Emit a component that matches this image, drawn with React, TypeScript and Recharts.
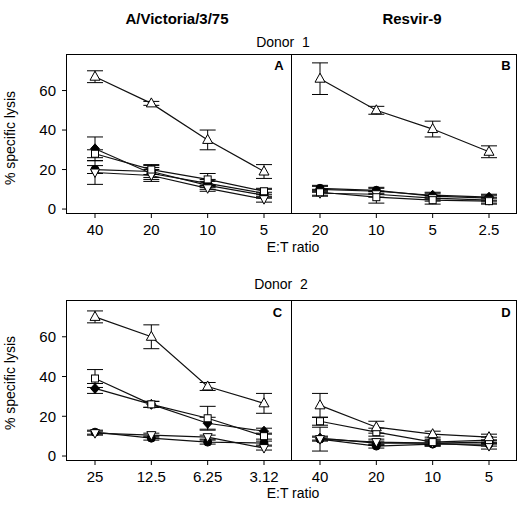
import React from "react";
import { LineChart, Line, XAxis, YAxis, ErrorBar } from "recharts";

// E:T ratio categories per panel
const catsA = ["40", "20", "10", "5"];
const catsB = ["20", "10", "5", "2.5"];
const catsC = ["25", "12.5", "6.25", "3.12"];
const catsD = ["40", "20", "10", "5"];
const yTicks = [0, 20, 40, 60];

// Panel A - Donor 1, A/Victoria/3/75
const triA = [67, 53.5, 35, 19];
const triAErr = [3, 1, 5, 3.5];
const sqA = [28, 20, 15, 9];
const sqAErr = [2, 2.5, 3, 1.5];
const diaA = [30.5, 18, 13, 8];
const diaAErr = [6, 3, 2, 2];
const cirA = [20, 19, 12, 7];
const cirAErr = [2, 3, 2, 1.5];
const invA = [18.5, 17, 10.5, 5];
const invAErr = [6, 3, 1.5, 1.5];

// Panel B - Donor 1, Resvir-9
const triB = [66, 50, 40.5, 29];
const triBErr = [8, 2, 4, 3];
const sqB = [8.5, 6, 4.5, 4];
const sqBErr = [1.5, 3, 2, 1.5];
const diaB = [10, 9, 7, 6];
const diaBErr = [1.5, 1.5, 1.5, 1.5];
const cirB = [10.5, 9.5, 6.5, 5.5];
const cirBErr = [1.5, 1.5, 1.5, 1.5];
const invB = [8, 7.5, 5.5, 4.5];
const invBErr = [1.5, 1.5, 1.5, 1.5];

// Panel C - Donor 2, A/Victoria/3/75
const triC = [70, 60, 35, 26.5];
const triCErr = [3, 6, 2, 5];
const sqC = [39, 26, 19, 10];
const sqCErr = [4.5, 1.5, 6, 1.5];
const diaC = [34, 26, 16.5, 12.5];
const diaCErr = [2.5, 1.5, 3, 1.5];
const cirC = [12, 9, 7, 6.5];
const cirCErr = [1, 1, 1, 1];
const invC = [11.5, 10.5, 9.5, 4];
const invCErr = [1, 1, 1, 1];

// Panel D - Donor 2, Resvir-9
const triD = [25.5, 14.5, 11, 9.5];
const triDErr = [6, 3, 1.5, 1.5];
const sqD = [17.5, 12, 7, 8];
const sqDErr = [2, 2, 1.5, 1.5];
const diaD = [9, 6.5, 6.5, 7];
const diaDErr = [1, 1, 1, 1];
const cirD = [8.5, 5, 6, 6];
const cirDErr = [1, 1, 1, 1];
const invD = [8.5, 7, 6.5, 5];
const invDErr = [6, 1.5, 1.5, 1.5];

type Kind = "tri" | "sq" | "dia" | "cir" | "inv";
const kinds: Kind[] = ["cir", "dia", "inv", "sq", "tri"];

function build(cats: string[], s: Record<string, number[]>) {
  return cats.map((cat, i) => {
    const row: Record<string, string | number> = { cat };
    Object.keys(s).forEach((k) => (row[k] = s[k][i]));
    return row;
  });
}

const dataA = build(catsA, {
  tri: triA, triErr: triAErr, sq: sqA, sqErr: sqAErr, dia: diaA, diaErr: diaAErr,
  cir: cirA, cirErr: cirAErr, inv: invA, invErr: invAErr,
});
const dataB = build(catsB, {
  tri: triB, triErr: triBErr, sq: sqB, sqErr: sqBErr, dia: diaB, diaErr: diaBErr,
  cir: cirB, cirErr: cirBErr, inv: invB, invErr: invBErr,
});
const dataC = build(catsC, {
  tri: triC, triErr: triCErr, sq: sqC, sqErr: sqCErr, dia: diaC, diaErr: diaCErr,
  cir: cirC, cirErr: cirCErr, inv: invC, invErr: invCErr,
});
const dataD = build(catsD, {
  tri: triD, triErr: triDErr, sq: sqD, sqErr: sqDErr, dia: diaD, diaErr: diaDErr,
  cir: cirD, cirErr: cirDErr, inv: invD, invErr: invDErr,
});

const FONT = '"Liberation Sans", Arial, sans-serif';
const yDomain: [number, number] = [-2, 78.5];

function Marker({ kind, cx, cy }: { kind: Kind; cx?: number; cy?: number }) {
  if (cx == null || cy == null) return null;
  const s = { stroke: "#000", strokeWidth: 1 };
  switch (kind) {
    case "tri":
      return <polygon points={`${cx},${cy - 5.5} ${cx + 5},${cy + 3.5} ${cx - 5},${cy + 3.5}`} fill="#fff" {...s} />;
    case "inv":
      return <polygon points={`${cx},${cy + 5} ${cx + 4.5},${cy - 3.5} ${cx - 4.5},${cy - 3.5}`} fill="#fff" {...s} />;
    case "sq":
      return <rect x={cx - 3.5} y={cy - 3.5} width={7} height={7} fill="#fff" {...s} />;
    case "dia":
      return <polygon points={`${cx},${cy - 5} ${cx + 4.5},${cy} ${cx},${cy + 5} ${cx - 4.5},${cy}`} fill="#000" {...s} />;
    default:
      return <circle cx={cx} cy={cy} r={4} fill="#000" {...s} />;
  }
}

function Panel({
  data, left, top, width, marginTop, marginRight, xHeight, showY,
}: {
  data: Record<string, string | number>[];
  left: number; top: number; width: number; marginTop: number; marginRight: number;
  xHeight: number; showY: boolean;
}) {
  const tickStyle = { fontSize: 15, fill: "#000", fontFamily: FONT };
  return (
    <div style={{ position: "absolute", left, top }}>
      <LineChart width={width} height={250} data={data} margin={{ top: marginTop, right: marginRight, bottom: 0, left: 0 }}>
        <XAxis
          dataKey="cat"
          height={xHeight}
          padding={{ left: 28, right: 28 }}
          tick={tickStyle}
          tickSize={5}
          tickMargin={6}
          axisLine={false}
          tickLine={{ stroke: "#000" }}
        />
        <YAxis
          domain={yDomain}
          ticks={yTicks}
          allowDataOverflow
          hide={!showY}
          width={67}
          tick={tickStyle}
          tickSize={5}
          tickMargin={6}
          axisLine={false}
          tickLine={{ stroke: "#000" }}
        />
        {kinds.map((k) => (
          <Line
            key={k}
            dataKey={k}
            stroke="#111"
            strokeWidth={1.2}
            isAnimationActive={false}
            dot={(p: { cx?: number; cy?: number; index?: number }) => <Marker key={`${k}${p.index}`} kind={k} cx={p.cx} cy={p.cy} />}
          >
            <ErrorBar dataKey={`${k}Err`} width={8} stroke="#000" strokeWidth={1} direction="y" />
          </Line>
        ))}
      </LineChart>
    </div>
  );
}

// panel frames: outer box per row plus the divider between the two panels
function Frame({ top, height }: { top: number; height: number }) {
  return (
    <>
      <div style={{ position: "absolute", left: 66, top, width: 451, height, boxSizing: "border-box", border: "1px solid #000" }} />
      <div style={{ position: "absolute", left: 291, top, width: 1, height, background: "#000" }} />
    </>
  );
}

const texts = [
  { t: "A/Victoria/3/75", x: 177, y: 18.5, size: 15, bold: true },
  { t: "Resvir-9", x: 412, y: 18.5, size: 15, bold: true },
  { t: "Donor  1", x: 283, y: 42, size: 14, bold: false },
  { t: "Donor  2", x: 281, y: 284, size: 14, bold: false },
  { t: "A", x: 279, y: 65, size: 13, bold: true },
  { t: "B", x: 506, y: 65, size: 13, bold: true },
  { t: "C", x: 277.5, y: 312, size: 13, bold: true },
  { t: "D", x: 506, y: 312, size: 13, bold: true },
  { t: "E:T ratio", x: 293, y: 247, size: 14, bold: false },
  { t: "E:T ratio", x: 293, y: 493, size: 14, bold: false },
];

export default function App() {
  return (
    <div style={{ position: "fixed", left: 0, top: 0, width: 527, height: 515, background: "#fff", fontFamily: FONT }}>
      <Panel data={dataA} left={0} top={0} width={293} marginTop={54} marginRight={1} xHeight={37} showY />
      <Panel data={dataB} left={292} top={0} width={235} marginTop={54} marginRight={10} xHeight={37} showY={false} />
      <Panel data={dataC} left={0} top={250} width={293} marginTop={50} marginRight={1} xHeight={40} showY />
      <Panel data={dataD} left={292} top={250} width={235} marginTop={50} marginRight={10} xHeight={40} showY={false} />
      <Frame top={54} height={160} />
      <Frame top={300} height={161} />
      <svg width={527} height={515} style={{ position: "absolute", left: 0, top: 0, pointerEvents: "none" }}>
        {texts.map((d, i) => (
          <text key={i} x={d.x} y={d.y} textAnchor="middle" dominantBaseline="central" fontSize={d.size} fontWeight={d.bold ? "bold" : "normal"} fontFamily={FONT} fill="#000" style={{ whiteSpace: "pre" }}>
            {d.t}
          </text>
        ))}
        <text x={10} y={138} transform="rotate(-90 10 138)" textAnchor="middle" dominantBaseline="central" fontSize={14} fontFamily={FONT} fill="#000">
          % specific lysis
        </text>
        <text x={10} y={383} transform="rotate(-90 10 383)" textAnchor="middle" dominantBaseline="central" fontSize={14} fontFamily={FONT} fill="#000">
          % specific lysis
        </text>
      </svg>
    </div>
  );
}
